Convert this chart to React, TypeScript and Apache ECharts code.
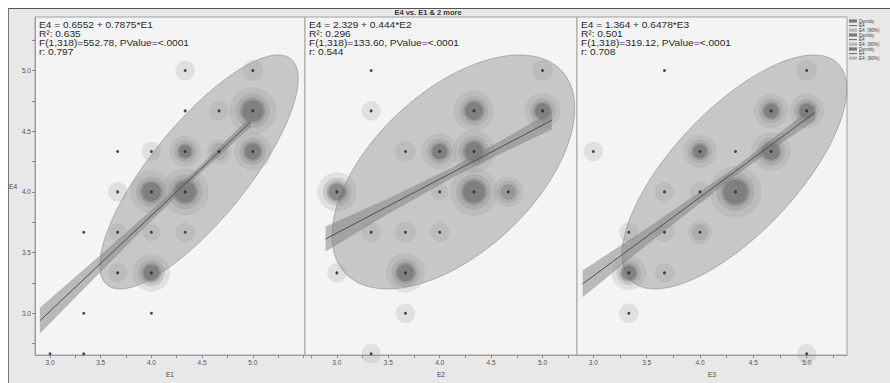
import React, { useEffect, useRef } from "react";
import * as echarts from "echarts";

// ---- Data ----
const xNames = ["E1", "E2", "E3"];
const equations = ["E4 = 0.6552 + 0.7875*E1", "E4 = 2.329 + 0.444*E2", "E4 = 1.364 + 0.6478*E3"];
const rSquared = ["0.635", "0.296", "0.501"];
const fStats = [
  "F(1,318)=552.78, PValue=<.0001",
  "F(1,318)=133.60, PValue=<.0001",
  "F(1,318)=319.12, PValue=<.0001",
];
const rValues = [0.797, 0.544, 0.708];
const intercepts = [0.6552, 2.329, 1.364];
const slopes = [0.7875, 0.444, 0.6478];
const fitRanges = [
  [2.9, 4.98],
  [2.89, 5.09],
  [2.9, 5.08],
];
// ellipse parameters (means / standard deviations)
const xMeans = [4.47, 4.133, 4.322];
const xSds = [0.456, 0.55, 0.491];
const yMean = 4.164;
const ySd = 0.449;
const ellipseK = 2.146; // 90% coverage
// confidence band half-widths read at a few x positions
const bandX = [
  [2.9, 3.5, 4.0, 4.47, 4.98],
  [2.89, 3.5, 4.13, 4.6, 5.09],
  [2.9, 3.5, 4.32, 4.7, 5.08],
];
const bandHalf = [
  [0.106, 0.07, 0.043, 0.03, 0.045],
  [0.103, 0.063, 0.042, 0.054, 0.075],
  [0.11, 0.068, 0.035, 0.044, 0.064],
];
// axis ranges
const xMins = [2.852, 2.69, 2.847];
const xMaxs = [5.515, 5.335, 5.378];
const yMin = 2.656;
const yMax = 5.44;
const tickLabels = [3.0, 3.5, 4.0, 4.5, 5.0];
const minorTicks = [2.75, 3.0, 3.25, 3.5, 3.75, 4.0, 4.25, 4.5, 4.75, 5.0, 5.25, 5.5];

// points: [x, E4, count]
const pointsE1: number[][] = [
  [4.333, 5.0, 3], [5.0, 5.0, 4],
  [4.333, 4.667, 1], [4.667, 4.667, 3], [5.0, 4.667, 45],
  [3.667, 4.333, 1], [4.0, 4.333, 3], [4.333, 4.333, 15], [4.667, 4.333, 7], [5.0, 4.333, 25],
  [3.667, 4.0, 3], [4.0, 4.0, 35], [4.333, 4.0, 45],
  [3.333, 3.667, 1], [3.667, 3.667, 2], [4.0, 3.667, 2], [4.333, 3.667, 3],
  [3.667, 3.333, 3], [4.0, 3.333, 25],
  [3.333, 3.0, 1], [4.0, 3.0, 1],
  [3.0, 2.667, 1], [3.333, 2.667, 1],
];
const pointsE2: number[][] = [
  [3.333, 5.0, 1], [5.0, 5.0, 4],
  [3.333, 4.667, 3], [4.333, 4.667, 30], [5.0, 4.667, 22],
  [3.667, 4.333, 4], [4.0, 4.333, 22], [4.333, 4.333, 35],
  [3.0, 4.0, 28], [4.0, 4.0, 2], [4.333, 4.0, 48], [4.667, 4.0, 14],
  [3.333, 3.667, 3], [3.667, 3.667, 4], [4.0, 3.667, 3],
  [3.0, 3.333, 3], [3.667, 3.333, 28],
  [3.667, 3.0, 3],
  [3.333, 2.667, 3],
];
const pointsE3: number[][] = [
  [3.667, 5.0, 1], [5.0, 5.0, 4],
  [4.667, 4.667, 20], [5.0, 4.667, 20],
  [3.0, 4.333, 3], [4.0, 4.333, 18], [4.333, 4.333, 1], [4.667, 4.333, 28],
  [3.667, 4.0, 3], [4.0, 4.0, 4], [4.333, 4.0, 58],
  [3.333, 3.667, 3], [3.667, 3.667, 3], [4.0, 3.667, 6],
  [3.333, 3.333, 20], [3.667, 3.333, 3],
  [3.333, 3.0, 3],
  [5.0, 2.667, 3],
];
const panelPoints = [pointsE1, pointsE2, pointsE3];

const legendLabels = ["Density", "E4", "E4: (90%)"];

// ---- Layout / styles ----
const grids = [
  { left: 35, top: 17, width: 270, height: 348 },
  { left: 305, top: 17, width: 272, height: 348 },
  { left: 577, top: 17, width: 270, height: 348 },
];
const densityLayers = [
  { min: 2, color: "rgba(150,150,150,0.26)", size: (n: number) => 10 + 5.5 * Math.sqrt(n) },
  { min: 5, color: "rgba(125,125,125,0.30)", size: (n: number) => 6 + 4.2 * Math.sqrt(n) },
  { min: 12, color: "rgba(110,110,110,0.40)", size: (n: number) => 2 + 3.6 * Math.sqrt(n) },
  { min: 15, color: "rgba(95,95,95,0.52)", size: (n: number) => 3.2 * Math.sqrt(n) },
];
const FONT = "'Liberation Sans', Arial, sans-serif";

function buildOption() {
  const series: any[] = [];
  const xAxis: any[] = [];
  const yAxis: any[] = [];
  const graphic: any[] = [];

  for (let i = 0; i < 3; i++) {
    xAxis.push({
      gridIndex: i,
      type: "value",
      min: xMins[i],
      max: xMaxs[i],
      name: xNames[i],
      nameLocation: "middle",
      nameGap: 12,
      nameTextStyle: { fontSize: 6.5, color: "#444444", fontFamily: FONT },
      axisLine: { show: true, lineStyle: { color: "#9a9a9a" } },
      axisTick: {
        show: true,
        length: 3,
        customValues: minorTicks.filter((v) => v > xMins[i] && v < xMaxs[i]),
        lineStyle: { color: "#888888" },
      },
      axisLabel: {
        customValues: tickLabels,
        formatter: (v: number) => v.toFixed(1),
        fontSize: 6.5,
        color: "#555555",
        margin: 4,
        fontFamily: FONT,
      },
      splitLine: { show: false },
    });
    yAxis.push({
      gridIndex: i,
      type: "value",
      min: yMin,
      max: yMax,
      name: i === 0 ? "E4" : "",
      nameLocation: "middle",
      nameRotate: 0,
      nameGap: 18,
      nameTextStyle: { fontSize: 6.5, color: "#444444", fontFamily: FONT },
      axisLine: { show: i === 0, lineStyle: { color: "#9a9a9a" } },
      axisTick: {
        show: i === 0,
        length: 3,
        customValues: minorTicks.filter((v) => v > yMin && v < yMax),
        lineStyle: { color: "#888888" },
      },
      axisLabel: {
        show: i === 0,
        customValues: tickLabels,
        formatter: (v: number) => v.toFixed(1),
        fontSize: 6.5,
        color: "#555555",
        margin: 4,
        fontFamily: FONT,
      },
      splitLine: { show: false },
    });

    const mx = xMeans[i];
    const sx = xSds[i];
    const r = rValues[i];
    // 90% density ellipse
    series.push({
      type: "custom",
      xAxisIndex: i,
      yAxisIndex: i,
      silent: true,
      z: 1,
      data: [[mx, yMean]],
      renderItem: (_p: any, api: any) => {
        const pts: number[][] = [];
        const N = 90;
        for (let j = 0; j <= N; j++) {
          const t = (j / N) * Math.PI * 2;
          const x = mx + ellipseK * sx * Math.cos(t);
          const y = yMean + ellipseK * ySd * (r * Math.cos(t) + Math.sqrt(1 - r * r) * Math.sin(t));
          pts.push(api.coord([x, y]));
        }
        return {
          type: "polygon",
          shape: { points: pts },
          style: { fill: "rgba(150,150,150,0.48)", stroke: "rgba(120,120,120,0.6)", lineWidth: 0.8 },
        };
      },
    });
    // density layers
    densityLayers.forEach((layer, k) => {
      series.push({
        type: "scatter",
        xAxisIndex: i,
        yAxisIndex: i,
        silent: true,
        z: 2 + k,
        symbol: "circle",
        symbolSize: (val: number[]) => layer.size(val[2]),
        itemStyle: { color: layer.color },
        data: panelPoints[i].filter((p) => p[2] >= layer.min),
      });
    });
    // confidence band for fit
    const bx = bandX[i];
    const bh = bandHalf[i];
    const a = intercepts[i];
    const b = slopes[i];
    series.push({
      type: "custom",
      xAxisIndex: i,
      yAxisIndex: i,
      silent: true,
      z: 7,
      data: [[bx[0], a + b * bx[0]]],
      renderItem: (_p: any, api: any) => {
        const upper = bx.map((x, j) => api.coord([x, a + b * x + bh[j]]));
        const lower = bx.map((x, j) => api.coord([x, a + b * x - bh[j]])).reverse();
        return {
          type: "polygon",
          shape: { points: upper.concat(lower) },
          style: { fill: "rgba(125,125,125,0.5)" },
        };
      },
    });
    // fit line
    series.push({
      type: "line",
      xAxisIndex: i,
      yAxisIndex: i,
      silent: true,
      z: 8,
      symbol: "none",
      lineStyle: { color: "#505050", width: 1 },
      data: fitRanges[i].map((x) => [x, a + b * x]),
    });
    // data points
    series.push({
      type: "scatter",
      xAxisIndex: i,
      yAxisIndex: i,
      silent: true,
      z: 9,
      symbol: "circle",
      symbolSize: 3,
      itemStyle: { color: "#222222" },
      data: panelPoints[i].map((p) => [p[0], p[1]]),
    });

    // annotation text
    const lines = [equations[i], "R²: " + rSquared[i], fStats[i], "r: " + rValues[i].toFixed(3)];
    lines.forEach((s, j) => {
      graphic.push({
        type: "text",
        x: grids[i].left + 4,
        y: 25.2 + j * 9,
        scaleX: 1.14,
        z: 20,
        style: {
          text: s,
          fontSize: 8.9,
          fontFamily: FONT,
          fill: "#2a2a2a",
          verticalAlign: "middle",
        },
      });
    });
  }

  // title
  graphic.push({
    type: "text",
    x: 428,
    y: 12.5,
    z: 20,
    style: {
      text: "E4 vs. E1 & 2 more",
      fontSize: 7.5,
      fontWeight: "bold",
      fontFamily: FONT,
      fill: "#333333",
      align: "center",
      verticalAlign: "middle",
    },
  });

  // legend
  for (let g = 0; g < 3; g++) {
    for (let k = 0; k < 3; k++) {
      const y = 21 + g * 14 + k * 4.6;
      if (k === 0) {
        graphic.push({ type: "rect", z: 20, shape: { x: 849, y: y - 1.6, width: 8, height: 3.2 }, style: { fill: "#7a7a7a" } });
      } else if (k === 1) {
        graphic.push({ type: "line", z: 20, shape: { x1: 849, y1: y, x2: 857, y2: y }, style: { stroke: "#444444", lineWidth: 0.8 } });
      } else {
        graphic.push({ type: "rect", z: 20, shape: { x: 849, y: y - 1.6, width: 8, height: 3.2 }, style: { fill: "#b8b8b8" } });
      }
      graphic.push({
        type: "text",
        x: 859,
        y,
        z: 20,
        style: { text: legendLabels[k], fontSize: 4.6, fontFamily: FONT, fill: "#444444", verticalAlign: "middle" },
      });
    }
  }

  return {
    animation: false,
    textStyle: { fontFamily: FONT },
    grid: grids.map((g) => ({
      ...g,
      containLabel: false,
      show: true,
      backgroundColor: "#f4f4f4",
      borderColor: "#a2a2a2",
      borderWidth: 1,
    })),
    xAxis,
    yAxis,
    series,
    graphic,
  };
}

export default function App() {
  const ref = useRef<HTMLDivElement>(null);
  useEffect(() => {
    if (!ref.current) return;
    const chart = echarts.init(ref.current, undefined, { renderer: "svg" });
    chart.setOption(buildOption() as any);
    return () => chart.dispose();
  }, []);
  return (
    <div style={{ position: "fixed", left: 0, top: 0, width: 890, height: 383, background: "#fff", overflow: "hidden" }}>
      <div
        style={{
          position: "absolute",
          left: 8,
          top: 8,
          width: 890,
          height: 380,
          background: "#e8e8e8",
          borderTop: "1px solid #555",
          borderLeft: "1px solid #777",
        }}
      />
      <div ref={ref} style={{ position: "absolute", left: 0, top: 0, width: 890, height: 383 }} />
    </div>
  );
}
